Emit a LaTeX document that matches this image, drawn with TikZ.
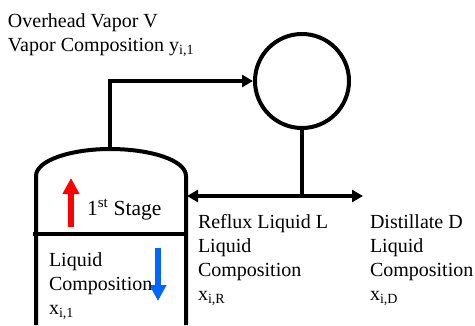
\documentclass[tikz,border=0pt]{standalone}
\usepackage{fontspec}
\setmainfont{Liberation Serif}
\usepackage{tikz}
\usetikzlibrary{arrows.meta}
\usetikzlibrary{positioning}
\newcommand{\compvar}[2]{#1\textsubscript{#2}}
\tikzset{
  pipe/.style={line width=4pt},
  flowtip/.style={-{Triangle[length=11pt,width=12pt]}},
  streamarrow/.style={line width=6pt,-{Triangle[length=16pt,width=16pt]}},
  label/.style={anchor=base west,inner sep=0pt,outer sep=0pt,align=left,
    font=\fontsize{20pt}{24pt}\selectfont},
}

\begin{document}
\begin{tikzpicture}[x=1pt,y=-1pt]
    \useasboundingbox (0,0) rectangle (475,325);
    \node[draw,pipe,circle,minimum size=94pt,inner sep=0pt] (condenser) at (302,81) {};
    % column shell
    \coordinate (shell-left-top) at (36,176);
    \coordinate (shell-right-top) at (186,176);
    \coordinate (shell-left-bottom) at (36,325);
    \coordinate (shell-right-bottom) at (186,325);
    \coordinate (dome-top) at (110,149);
    \coordinate (tray-left) at (33,234);
    \coordinate (tray-right) at (186,234);
    \coordinate (tee) at (302,196);
    \coordinate (reflux-end) at (187,196);
    \coordinate (distillate-end) at (363,196);
    \draw[pipe] (shell-left-bottom) -- (shell-left-top)
      .. controls (36,160) and (72,149) .. (dome-top)
      .. controls (150,149) and (186,160) .. (shell-right-top)
      -- (shell-right-bottom);
    \draw[pipe] (tray-left) -- (tray-right);
    % streams
    \draw[pipe,flowtip] (dome-top) |- (condenser.west);
    \draw[pipe] (condenser.south) -- (tee);
    \draw[pipe,flowtip] (tee) -- (reflux-end);
    \draw[pipe,flowtip] (tee) -- (distillate-end);
    % stage arrows
    \coordinate (vapor-start) at (71,227);
    \coordinate (vapor-end) at (71,178);
    \coordinate (liquid-start) at (158,248);
    \coordinate (liquid-end) at (158,301);
    \draw[streamarrow,red] (vapor-start) -- (vapor-end);
    \draw[streamarrow,blue!60!cyan] (liquid-start) -- (liquid-end);
    % labels
    \node[label] (overhead) at (8,51) {Overhead Vapor V\\Vapor Composition \compvar{y}{i,1}};
    \node[label,font=\fontsize{21.5pt}{24pt}\selectfont] (stage) at (87,215) {1\textsuperscript{st} Stage};
    \node[label] (stage-liquid) at (49,314) {Liquid\\Composition\\\compvar{x}{i,1}};
    \node[label] (reflux) at (198,300) {Reflux Liquid L\\Liquid\\Composition\\\compvar{x}{i,R}};
    \node[label] (distillate) at (370,300) {Distillate D\\Liquid\\Composition\\\compvar{x}{i,D}};
  \end{tikzpicture}
\end{document}
